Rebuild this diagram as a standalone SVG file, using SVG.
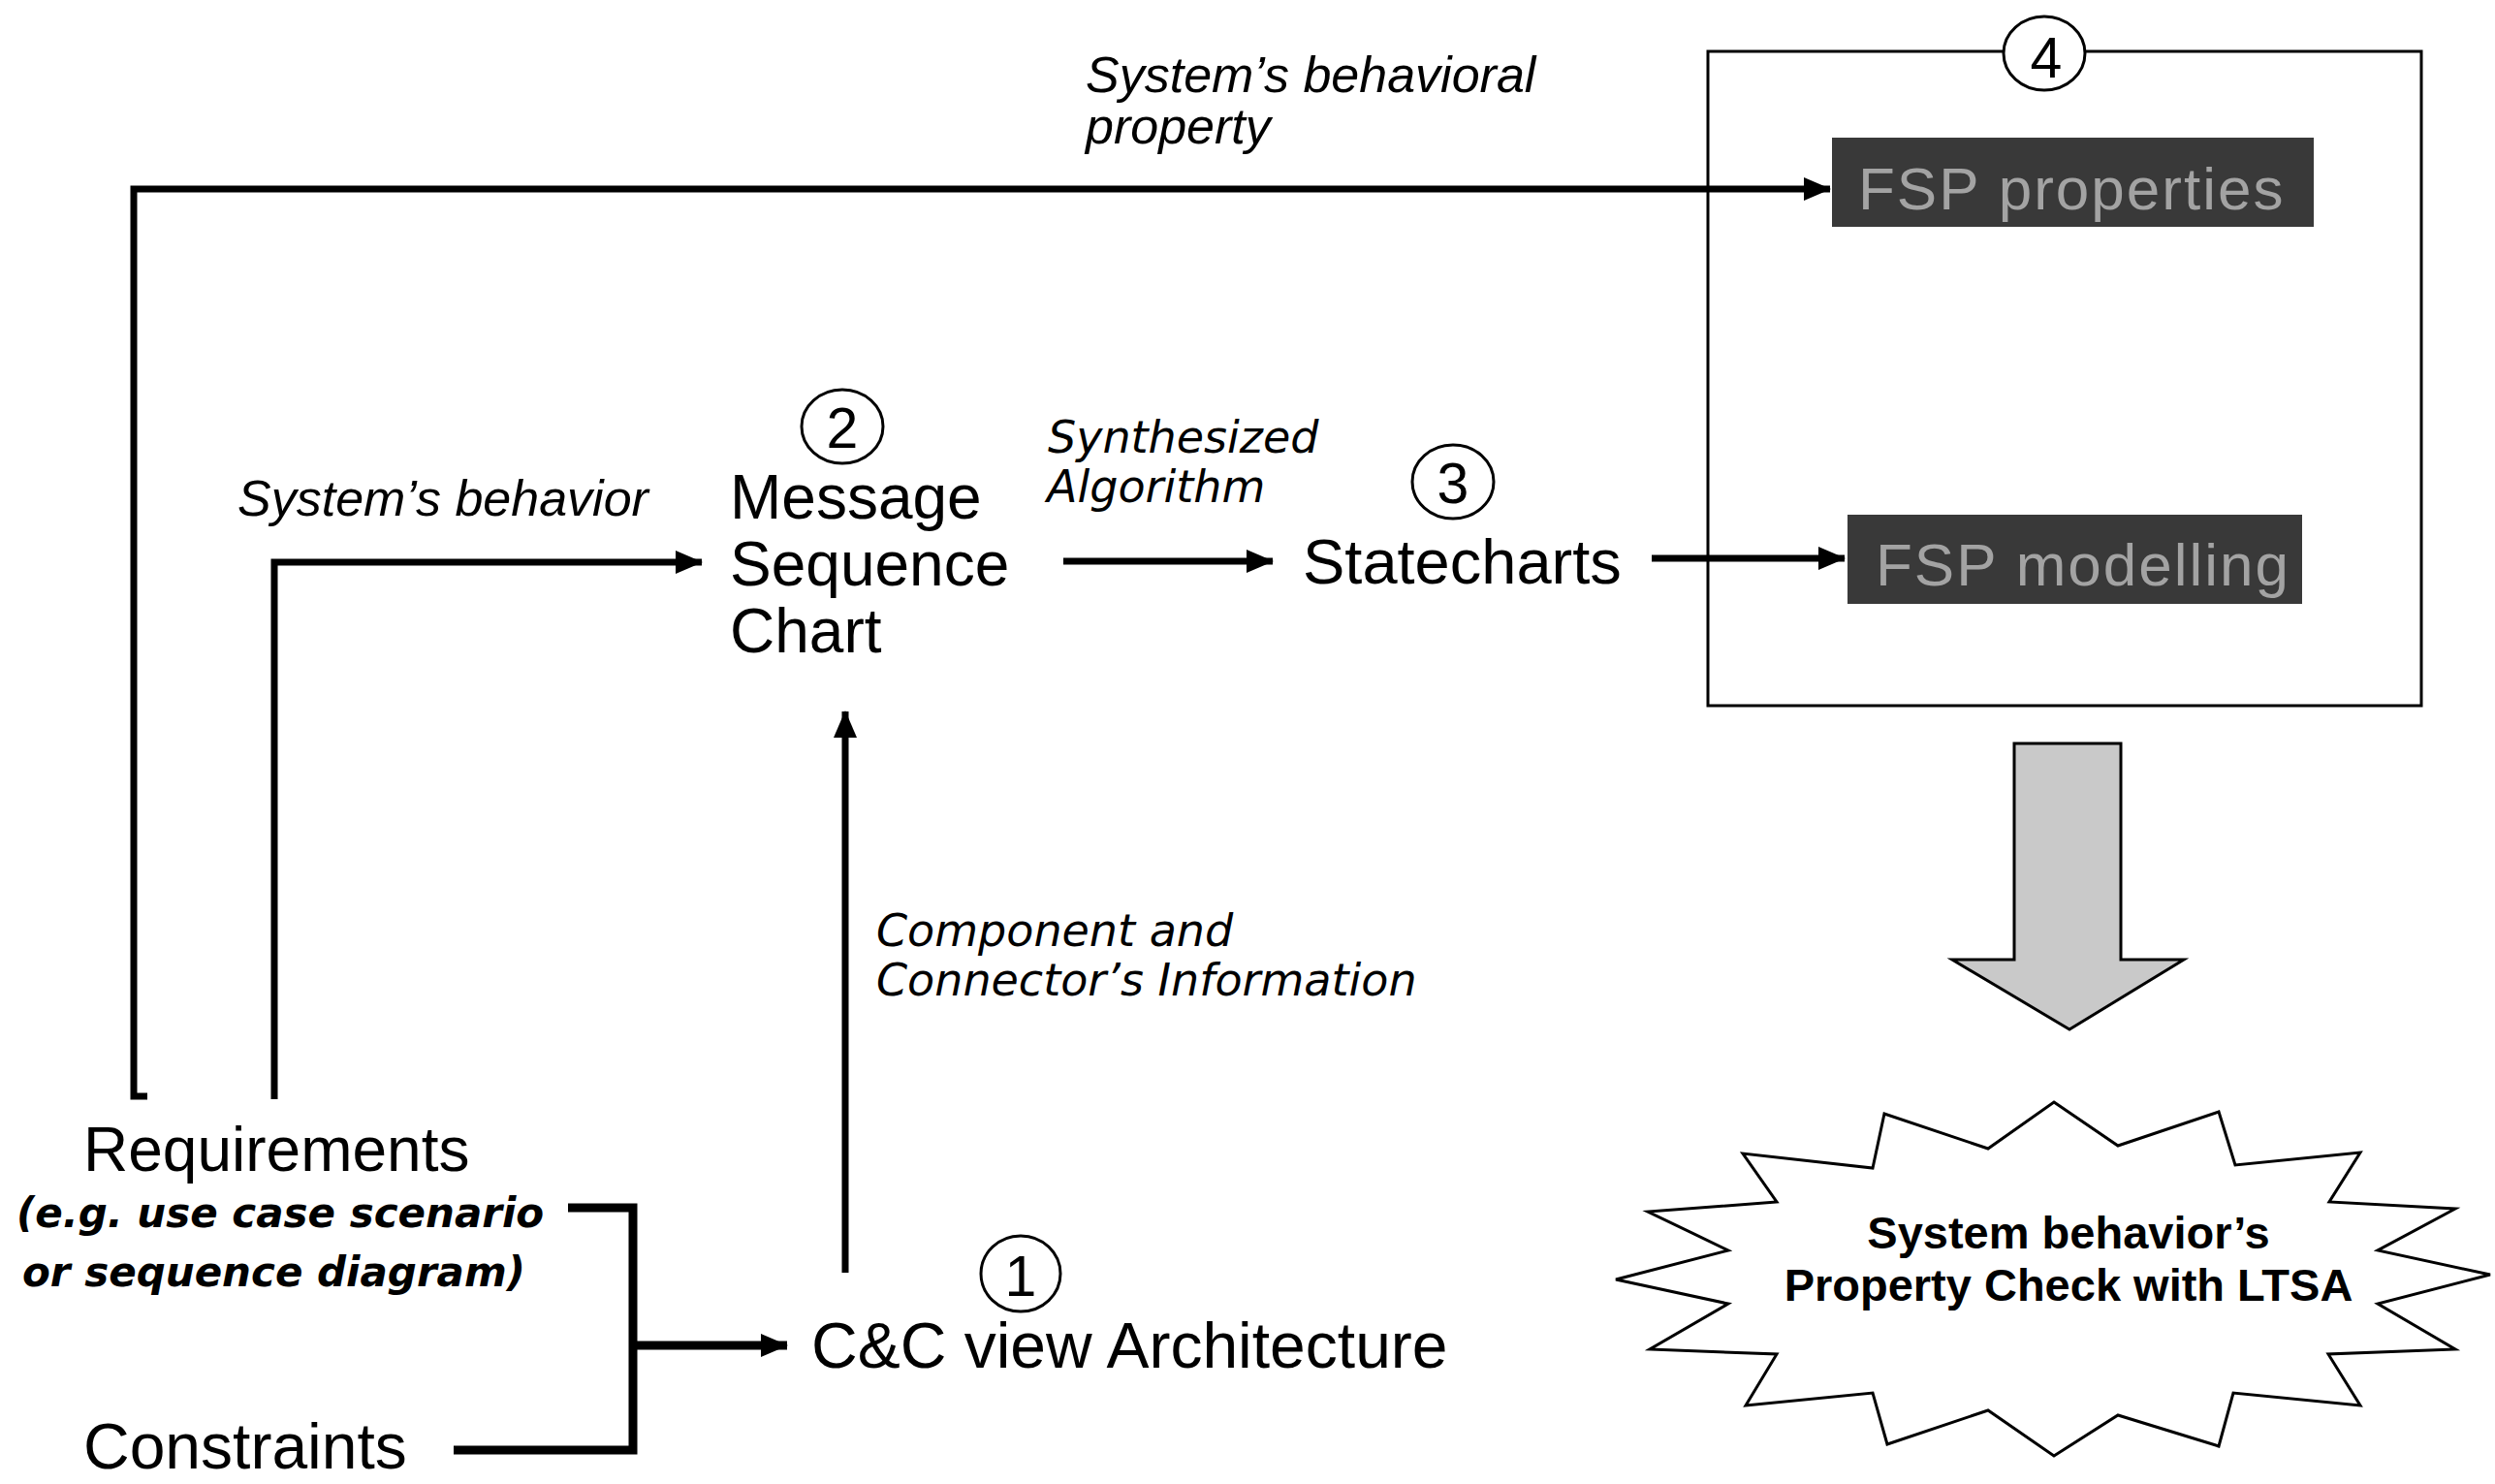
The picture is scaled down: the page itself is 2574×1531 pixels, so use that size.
<svg xmlns="http://www.w3.org/2000/svg" width="2574" height="1531" viewBox="0 0 2574 1531">
<style>
.lbl{font-family:"Liberation Sans",Arial,sans-serif;fill:#000}
.big{font-size:64px}
.it{font-style:italic;font-size:52px}
.wide{font-family:"DejaVu Sans",sans-serif;font-style:italic;font-size:46px;fill:#000}
.req2{font-family:"DejaVu Sans",sans-serif;font-style:italic;font-weight:bold;font-size:42px;fill:#000}
.num{font-family:"Liberation Sans",Arial,sans-serif;font-size:59px;fill:#000;text-anchor:middle}
.circ{fill:#fff;stroke:#000;stroke-width:3}
.conn{fill:none;stroke:#000;stroke-width:7;stroke-linejoin:miter;stroke-linecap:butt}
.thick{stroke-width:9}
.fsp{fill:#393939}
.fsptxt{font-family:"Liberation Sans",Arial,sans-serif;font-size:62px;letter-spacing:2px;fill:#a3a3a3}
.star{font-family:"Liberation Sans",Arial,sans-serif;font-weight:bold;font-size:47px;fill:#000;text-anchor:middle}
</style>
<defs>
<marker id="ah" markerWidth="28" markerHeight="24" refX="27" refY="12" orient="auto" markerUnits="userSpaceOnUse">
<path d="M0,0 L28,12 L0,24 z" fill="#000"/>
</marker>
</defs>
<rect width="2574" height="1531" fill="#fff"/>

<g id="connectors">
<path class="conn" d="M152 1131 L138 1131 L138 195 L1888 195" marker-end="url(#ah)"/>
<path class="conn" d="M283 1134 L283 580 L724 580" marker-end="url(#ah)"/>
<path class="conn" d="M1097 579 L1313 579" marker-end="url(#ah)"/>
<path class="conn" d="M1704 576 L1903 576" marker-end="url(#ah)"/>
<path class="conn" d="M872 1313 L872 734" marker-end="url(#ah)"/>
<path class="conn thick" d="M586 1246 L653 1246 L653 1496 L468 1496"/>
<path class="conn thick" d="M653 1388 L812 1388" marker-end="url(#ah)"/>
</g>

<g id="label-behavioral-property">
<text class="lbl it" x="1120" y="95">System’s behavioral</text>
<text class="lbl it" x="1120" y="148">property</text>
</g>
<g id="label-system-behavior">
<text class="lbl it" x="245" y="532">System’s behavior</text>
</g>
<g id="label-synthesized">
<text class="wide" x="1081" y="467">Synthesized</text>
<text class="wide" x="1080" y="518">Algorithm</text>
</g>
<g id="label-cc-info">
<text class="wide" x="904" y="976">Component and</text>
<text class="wide" x="904" y="1027">Connector’s Information</text>
</g>

<g id="node-msc">
<ellipse class="circ" cx="869" cy="440" rx="42" ry="38"/>
<text class="num" x="869" y="462">2</text>
<text class="lbl big" x="753" y="535">Message</text>
<text class="lbl big" x="753" y="604">Sequence</text>
<text class="lbl big" x="753" y="673">Chart</text>
</g>

<g id="node-statecharts">
<ellipse class="circ" cx="1499" cy="497" rx="42" ry="38"/>
<text class="num" x="1499" y="519">3</text>
<text class="lbl" x="1344" y="602" font-size="65">Statecharts</text>
</g>

<g id="node-cc-view">
<ellipse class="circ" cx="1053" cy="1314" rx="41" ry="39"/>
<text class="num" x="1053" y="1337">1</text>
<text class="lbl" x="837" y="1411" font-size="66">C&amp;C view Architecture</text>
</g>

<g id="node-requirements">
<text class="lbl big" x="86" y="1208">Requirements</text>
<text class="req2" x="17" y="1266">(e.g. use case scenario</text>
<text class="req2" x="23" y="1327">or sequence diagram)</text>
</g>

<g id="node-constraints">
<text class="lbl" x="86" y="1515" font-size="66">Constraints</text>
</g>

<g id="node-fsp">
<rect x="1762" y="53" width="736" height="675" fill="none" stroke="#000" stroke-width="3"/>
<ellipse class="circ" cx="2109" cy="55" rx="42" ry="38"/>
<text class="num" x="2111" y="80">4</text>
<g id="fsp-properties">
<rect class="fsp" x="1890" y="142" width="497" height="92"/>
<text class="fsptxt" x="1917" y="216">FSP properties</text>
</g>
<g id="fsp-modelling">
<rect class="fsp" x="1906" y="531" width="469" height="92"/>
<text class="fsptxt" x="1935" y="604" letter-spacing="1">FSP modelling</text>
</g>
</g>

<g id="big-arrow">
<path d="M2078 767 L2188 767 L2188 990 L2253 990 L2135 1062 L2014 990 L2078 990 z" fill="#c9c9c9" stroke="#000" stroke-width="3"/>
</g>

<g id="node-property-check">
<polygon points="2119,1137 2185,1182 2289,1147 2306,1202 2435,1189 2403,1240 2533,1247 2453,1290 2569,1315 2453,1345 2533,1392 2402,1397 2435,1450 2304,1437 2289,1492 2185,1460 2119,1502 2051,1455 1947,1490 1932,1437 1801,1450 1833,1397 1702,1392 1783,1345 1667,1320 1783,1290 1700,1250 1833,1240 1798,1190 1932,1205 1944,1149 2051,1185" fill="#fff" stroke="#000" stroke-width="3"/>
<text class="star" x="2134" y="1288">System behavior’s</text>
<text class="star" x="2134" y="1342">Property Check with LTSA</text>
</g>
</svg>
